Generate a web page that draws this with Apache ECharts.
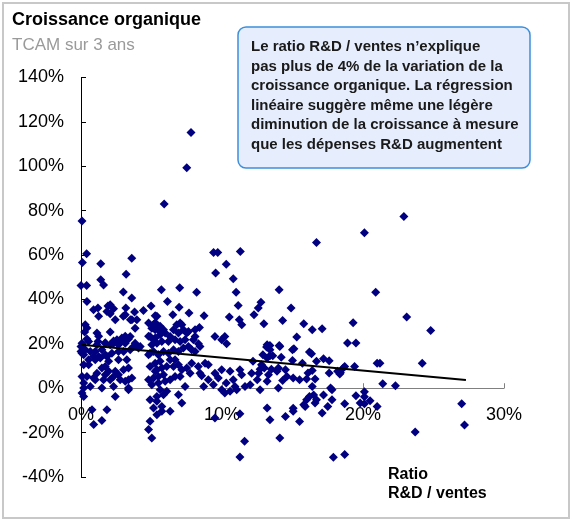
<!DOCTYPE html>
<html>
<head>
<meta charset="utf-8">
<script src="https://cdn.jsdelivr.net/npm/echarts@6/dist/echarts.min.js"></script>
<style>
html,body{margin:0;padding:0;background:#fff;}
#c{width:573px;height:522px;}
</style>
</head>
<body>
<div id="c"></div>
<script>
// Axis tick values
var xTicks = [0, 10, 20, 30];
var yTicks = [-40, -20, 0, 20, 40, 60, 80, 100, 120, 140];

// Scatter points: R&D / sales ratio (%) and 3-year organic growth CAGR (%)
var ratio = [
0.07,7.8,7.5,5.9,0.1,0.4,0.0,0.4,1.4,1.4,1.6,3.6,3.2,3.0,3.6,5.7,7.0,8.2,9.4,9.7,9.55,10.3,10.8,11.3,11.0,14.05,16.7,20.1,22.9,20.9,
19.3,23.1,24.8,18.9,19.5,18.7,19.4,21.0,21.2,24.2,18.4,21.4,22.3,19.5,20.1,20.1,18.7,20.1,20.5,21.0,27.0,27.2,23.7,
14.9,14.3,15.8,16.4,17.1,15.3,15.1,16.2,16.35,14.2,15.0,15.7,17.2,17.6,16.7,18.6,18.2,18.35,17.6,16.4,16.1,14.5,14.6,15.05,15.5,16.0,16.6,14.3,16.4,17.7,17.8,19.8,16.5,16.2,16.7,17.2,16.0,15.9,16.6,15.8,17.5,15.05,15.05,14.5,15.5,17.1,17.8,14.1,17.9,18.7,
13.2,13.4,13.2,13.4,14.1,15.0,
13.16,13.4,14.06,12.9,13.4,13.6,13.2,12.2,12.8,12.7,13.0,13.5,14.0,13.9,13.3,12.6,12.1,12.5,13.2,12.0,12.7,14.0,11.6,
12.76,12.57,12.27,12.97,
11.15,6.13,6.96,6.51,7.66,8.73,10.52,11.23,7.15,8.4,9.5,10.2,9.98,10.33,8.09,8.33,7.03,7.38,11.4,
9.03,8.56,9.5,9.98,10.57,11.27,11.39,11.63,9.74,9.39,9.98,10.2,10.92,11.04,9.5,11.27,11.27,
10.3,10.8,10.57,8.7,9.03,8.44,8.32,8.8,
0.42,1.2,1.91,2.31,2.07,3.18,3.8,4.43,4.97,3.0,3.5,3.84,3.96,5.26,5.45,0.3,2.07,0.26,0.42,1.25,1.2,3.14,3.37,2.78,4.79,5.02,5.14,5.26,5.61,1.72,2.31,
0.54,0.07,0.30,0.07,0.66,1.13,1.48,1.72,2.07,2.31,2.78,3.84,4.08,3.49,3.02,2.66,2.19,1.84,1.37,0.89,0.54,0.19,0.07,0.19,0.42,0.89,1.13,1.48,1.72,1.96,2.31,2.66,3.02,3.25,3.37,3.61,3.14,2.78,2.07,1.60,1.01,0.66,0.19,1.48,2.31,3.37,0.0,0.0,
1.13,2.55,2.90,3.25,3.49,1.25,2.07,2.43,3.14,3.61,1.84,0.89,0.42,
0.19,1.01,1.25,1.72,2.66,3.14,3.72,4.2,0.54,1.01,1.96,2.66,2.43,1.72,3.37,3.37,0.19,2.43,0.78,1.84,0.9,1.48,0.07,4.9,5.26,5.38,5.73,5.38,4.9,4.79,5.02,
4.79,5.14,5.38,5.26,5.61,5.85,4.90,5.26,5.61,5.97,6.32,6.56,6.79,7.03,7.26,7.50,6.91,6.67,6.20,5.73,5.38,5.02,4.79,5.14,5.49,5.85,6.20,6.56,6.91,7.26,7.62,7.85,8.09,6.32,6.67,5.61,5.26,4.90,5.38,5.73,6.08,6.56,6.91,7.15,7.50,7.85,5.85,5.49,5.14,4.79,5.02,5.49,5.97,6.32,6.67,7.03,7.38,5.61,6.08,5.85,5.38,4.90,5.14,5.73,6.32,6.91,7.15,7.74,8.44,7.97,8.09,7.62
];
var growth = [
75.4,115.2,99.3,83.0,56.7,60.6,46.3,46.3,56.1,48.9,46.5,58.6,51.4,43.3,40.7,44.4,45.3,43.2,61.2,61.2,51.9,55.9,49.3,61.6,43.2,44.4,65.7,70.0,77.4,43.2,
29.5,32.1,26.0,20.4,20.4,9.8,9.8,11.2,11.2,11.2,7.0,2.0,1.1,-3.4,-1.6,-3.8,-7.0,-7.0,-5.6,-8.2,-7.0,-16.6,-19.7,
36.1,30.5,29.1,26.4,26.8,23.1,17.8,16.3,15.5,14.0,12.5,11.3,13.3,12.4,12.1,9.1,7.6,6.4,6.9,8.0,6.9,8.3,5.3,4.6,3.8,4.1,4.1,3.5,0.8,0.1,-0.7,-6.7,-3.0,-3.7,-5.2,-3.0,-5.2,-8.2,-6.7,-7.4,-8.2,-9.0,-10.4,-12.7,-15.0,-11.2,-5.2,-22.4,-31.1,-29.9,
-8.9,-14.2,19.6,17.3,18.8,17.3,
18.6,19.2,19.2,15.1,14.6,14.6,13.6,12.1,10.6,8.6,9.1,8.6,9.1,7.6,6.1,6.8,6.8,3.8,3.1,1.6,-0.7,0.1,-23.9,
38.7,36.1,33.1,29.0,
37.3,39.1,36.5,33.1,33.9,32.7,32.1,30.9,28.6,27.4,23.3,23.3,21.8,20.0,23.3,20.0,21.1,21.8,28.6,
10.6,5.6,6.8,8.3,7.6,8.3,6.1,0.8,4.6,1.6,-0.7,-2.2,0.8,-0.7,-13.4,-11.5,-31.0,
2.3,3.8,-1.4,0.8,3.8,6.8,9.8,11.3,
39.1,36.1,37.1,35.8,33.5,36.1,34.3,35.0,37.1,32.4,30.9,27.0,30.9,32.7,28.2,28.6,25.3,25.3,22.2,23.4,21.1,23.4,22.2,20.5,23.4,27.0,21.8,29.5,25.6,20.5,21.3,
21.1,20.3,17.3,15.8,16.6,19.6,17.3,20.3,19.6,20.3,21.1,20.3,18.1,17.3,16.6,16.6,15.8,14.3,13.6,14.3,12.8,10.6,5.3,2.3,5.3,4.6,6.8,9.1,9.8,7.6,5.3,6.1,8.3,12.8,9.1,4.6,3.1,3.8,3.8,3.8,3.8,0.8,0.1,0.1,0.8,0.1,18.8,16.6,
24.9,21.8,22.6,21.8,23.3,32.4,37.6,30.9,33.1,30.9,34.6,35.4,27.1,
15.1,16.6,14.3,15.1,19.6,20.3,18.8,18.8,10.6,12.8,12.1,12.8,7.6,6.1,-0.7,3.8,-3.7,-3.7,-9.7,-9.7,-16.4,-14.5,-2.2,15.8,7.6,-5.9,-8.2,-11.9,-14.9,-18.6,-22.4,
29.4,28.6,32.4,26.4,27.9,26.4,23.3,22.6,24.1,24.9,23.3,26.4,28.6,29.4,26.4,24.9,24.9,21.8,21.1,21.1,20.3,19.6,15.1,16.6,15.1,16.6,15.8,17.3,16.6,18.1,18.8,17.3,16.6,12.8,12.8,12.1,11.3,9.8,8.3,9.1,9.8,9.8,10.6,8.3,9.1,11.3,6.1,5.3,4.6,3.8,1.6,2.3,3.1,3.8,5.3,5.3,0.8,-0.7,-1.4,-2.9,-3.7,-5.2,-8.9,-10.4,-10.4,-2.9,-6.7,6.8,18.8,21.8,26.4,25.6
];

// Linear regression line end points
var trendX = [0, 27.3];
var trendY = [19.6, 3.7];

// Text
var titleText = 'Croissance organique';
var subtitleText = 'TCAM sur 3 ans';
var noteLines = [
  'Le ratio R&D / ventes n\u2019explique',
  'pas plus de 4% de la variation de la',
  'croissance organique. La régression',
  'linéaire suggère même une légère',
  'diminution de la croissance à mesure',
  'que les dépenses R&D augmentent'
];
var xAxisTitle = ['Ratio', 'R&D / ventes'];

var points = [];
for (var i = 0; i < Math.min(ratio.length, growth.length); i++) points.push([ratio[i], growth[i]]);
var trend = trendX.map(function (x, i) { return [x, trendY[i]]; });

var FONT = '"Liberation Sans", Arial, Helvetica, sans-serif';
var chart = echarts.init(document.getElementById('c'), null, {renderer: 'canvas'});
chart.setOption({
  animation: false,
  backgroundColor: '#ffffff',
  grid: {left: 81, right: 69, top: 77.5, bottom: 45, containLabel: false},
  xAxis: {
    type: 'value', min: xTicks[0], max: xTicks[xTicks.length - 1], interval: 10,
    axisLine: {show: true, onZero: true, lineStyle: {color: '#808080', width: 1}},
    axisTick: {show: true, inside: true, length: 5, lineStyle: {color: '#808080'}},
    axisLabel: {formatter: '{value}%', fontSize: 18, color: '#000', fontFamily: FONT, margin: -71},
    splitLine: {show: false}
  },
  yAxis: {
    type: 'value', min: yTicks[0], max: yTicks[yTicks.length - 1], interval: 20,
    axisLine: {show: true, lineStyle: {color: '#000', width: 1}},
    axisTick: {show: true, inside: true, length: 5, lineStyle: {color: '#000'}},
    axisLabel: {formatter: '{value}%', fontSize: 18, color: '#000', fontFamily: FONT, margin: 17},
    splitLine: {show: false}
  },
  series: [
    {
      type: 'scatter', data: points, symbol: 'diamond', symbolSize: 9,
      itemStyle: {color: '#000080', opacity: 1}, z: 2
    },
    {
      type: 'line', data: trend, showSymbol: false, symbol: 'none',
      lineStyle: {color: '#000', width: 2}, z: 3, silent: true
    }
  ],
  graphic: [
    {type: 'rect', shape: {x: 3, y: 3, width: 566, height: 515}, style: {fill: 'none', stroke: '#c8c8c8', lineWidth: 2}, silent: true, z: -1},
    {type: 'text', left: 12, top: 11, style: {text: titleText, font: 'bold 18px ' + FONT, fill: '#000'}},
    {type: 'text', left: 12, top: 37, style: {text: subtitleText, font: '17px ' + FONT, fill: '#9a9a9a'}},
    {type: 'rect', shape: {x: 238, y: 27, width: 292, height: 141, r: 8}, style: {fill: '#e6edfc', stroke: '#3d8fdb', lineWidth: 1.5}, z: 10},
    {type: 'text', left: 251, top: 37, z: 11, style: {text: noteLines.join('\n'), font: 'bold 15px ' + FONT, lineHeight: 19.6, fill: '#1a1a1a'}},
    {type: 'text', left: 388, top: 465, style: {text: xAxisTitle.join('\n'), font: 'bold 16px ' + FONT, lineHeight: 19, fill: '#000'}}
  ]
});
</script>
</body>
</html>
